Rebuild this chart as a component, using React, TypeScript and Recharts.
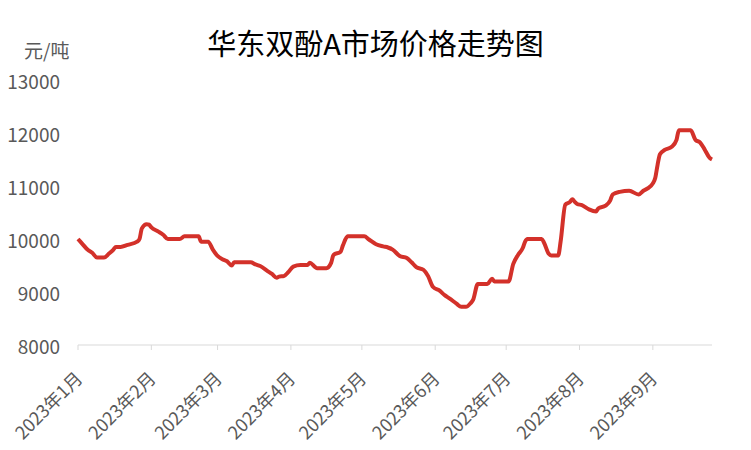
import { LineChart, Line, XAxis, YAxis } from "recharts";

// day of year (2023-01-01 = 0) and price in 元/吨
const days = [
  0, 2, 4, 6, 8, 11, 13, 15, 16, 18, 21, 25, 26, 27, 29, 30, 31, 34, 36, 38, 43, 45, 51, 52, 55, 57, 59, 61,
  63, 65, 66, 73, 75, 77, 80, 82, 84, 85, 87, 89, 91, 94, 97, 98, 100, 101, 105, 107, 108, 111, 112, 114,
  121, 123, 126, 129, 131, 133, 136, 139, 141, 143, 146, 148, 150, 153, 155, 157, 160, 162, 164, 166, 167,
  169, 173, 175, 176, 182, 184, 186, 188, 189, 190, 196, 197, 199, 200, 203, 204, 206, 208, 209, 210, 211,
  213, 216, 219, 220, 223, 225, 226, 229, 233, 237, 239, 241, 243, 244, 245, 246, 248, 251, 253, 254, 259,
  261, 263, 265, 267, 268,
];
const prices = [
  10000, 9900, 9800, 9740, 9650, 9650, 9720, 9800, 9850, 9850, 9890, 9950, 10000, 10200, 10280, 10270, 10220,
  10140, 10080, 10000, 10000, 10050, 10050, 9950, 9950, 9800, 9680, 9620, 9580, 9500, 9560, 9560, 9520, 9490,
  9400, 9340, 9270, 9290, 9300, 9380, 9480, 9510, 9510, 9550, 9480, 9450, 9450, 9550, 9700, 9760, 9880, 10050,
  10050, 9990, 9900, 9860, 9840, 9800, 9680, 9640, 9560, 9470, 9420, 9300, 9100, 9020, 8940, 8880, 8780, 8720,
  8720, 8790, 8850, 9150, 9150, 9250, 9200, 9200, 9530, 9700, 9830, 9950, 10000, 10000, 9930, 9720, 9690, 9690,
  9950, 10650, 10700, 10750, 10700, 10660, 10640, 10560, 10520, 10580, 10630, 10730, 10840, 10890, 10910, 10840,
  10910, 10960, 11050, 11150, 11400, 11600, 11680, 11740, 11870, 12050, 12050, 11870, 11820, 11680, 11530, 11500,
];

const monthDays = [0, 31, 59, 90, 120, 151, 181, 212, 243];
const monthLabels = [
  "2023年1月", "2023年2月", "2023年3月", "2023年4月", "2023年5月",
  "2023年6月", "2023年7月", "2023年8月", "2023年9月",
];
const yTicks = [8000, 9000, 10000, 11000, 12000, 13000];

const data = days.map((d, i) => ({ day: d, price: prices[i] }));

const FONT = "'Noto Sans CJK SC', 'Noto Sans', sans-serif";

function YTick(props: any) {
  const { y, payload } = props;
  return (
    <text x={60} y={y} textAnchor="end" dominantBaseline="central" fill="#595959" fontSize={19} fontFamily={FONT}>
      {payload.value}
    </text>
  );
}

function XTick(props: any) {
  const { x, y, payload } = props;
  const idx = monthDays.indexOf(payload.value);
  return (
    <g transform={`translate(${x},${y + 22})`}>
      <text transform="rotate(-45)" textAnchor="end" dominantBaseline="central" fill="#595959" fontSize={18} fontFamily={FONT}>
        {monthLabels[idx]}
      </text>
    </g>
  );
}

export default function App() {
  return (
    <div style={{ position: "absolute", left: 0, top: 0, width: 751, height: 450, background: "#fff" }}>
      <div
        style={{
          position: "absolute", left: 0, top: 21, width: 751, textAlign: "center",
          fontSize: 29, fontFamily: FONT, color: "#000",
        }}
      >
        华东双酚A市场价格走势图
      </div>
      <div style={{ position: "absolute", left: 24, top: 36, fontSize: 19, fontFamily: FONT, color: "#595959" }}>
        元/吨
      </div>
      <LineChart width={751} height={450} data={data} margin={{ top: 80, right: 39, bottom: 0, left: 0 }}>
        <XAxis
          dataKey="day"
          type="number"
          domain={[0, 268]}
          ticks={monthDays}
          interval={0}
          height={105}
          stroke="#d9d9d9"
          tickSize={5}
          tick={<XTick />}
        />
        <YAxis
          type="number"
          domain={[8000, 13000]}
          ticks={yTicks}
          width={78}
          axisLine={false}
          tickLine={false}
          tick={<YTick />}
        />
        <Line
          type="monotone"
          dataKey="price"
          stroke="#d3312a"
          strokeWidth={4}
          dot={false}
          isAnimationActive={false}
        />
      </LineChart>
    </div>
  );
}
